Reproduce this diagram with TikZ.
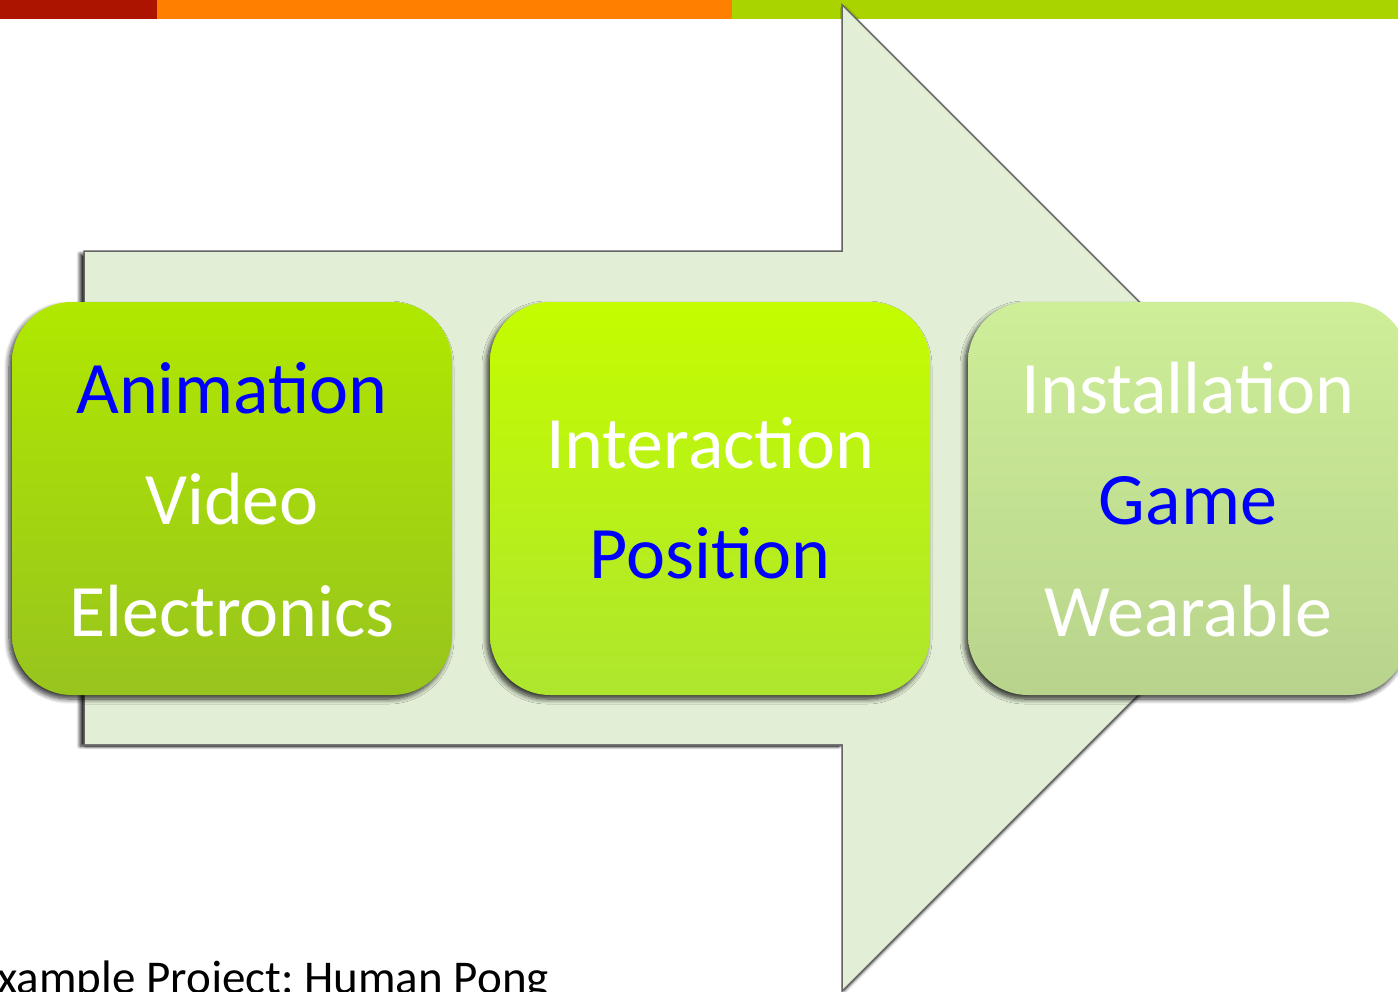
\documentclass[tikz,border=0pt]{standalone}
\usepackage{fontspec}
\setmainfont{Carlito}
\usetikzlibrary{shadows.blur}
\definecolor{barred}{RGB}{172,20,0}
\definecolor{barorange}{RGB}{255,127,0}
\definecolor{bargreen}{RGB}{170,212,0}
\definecolor{arrowfill}{RGB}{226,238,214}
\definecolor{boxAtop}{RGB}{176,232,0}
\definecolor{boxAbot}{RGB}{152,196,30}
\definecolor{boxBtop}{RGB}{196,252,0}
\definecolor{boxBbot}{RGB}{174,230,46}
\definecolor{boxCtop}{RGB}{206,238,152}
\definecolor{boxCbot}{RGB}{184,212,140}
\definecolor{txtblue}{RGB}{0,0,255}
\frenchspacing
\begin{document}
\begin{tikzpicture}[x=1pt,y=-1pt,
  stage/.style={rectangle, rounded corners=60pt, minimum width=440pt,
    minimum height=393pt, inner sep=0pt,
    blur shadow={shadow xshift=-3pt, shadow yshift=-4pt,
      shadow blur radius=5pt, shadow blur steps=8, shadow opacity=80}},
  lbl/.style={inner sep=0pt, anchor=base, font=\fontsize{74}{89}\selectfont},
  bluetxt/.style={lbl, text=txtblue},
  whitetxt/.style={lbl, text=white}]
\useasboundingbox (0,0) rectangle (1398,991);
\clip (0,0) rectangle (1398,991);
% top bar
\fill[barred] (0,0) rectangle (157,19);
\fill[barorange] (157,0) rectangle (732,19);
\fill[bargreen] (732,0) rectangle (1398,19);
% big arrow: shaft shadow (stronger on the left), then the whole arrow
\path[fill=arrowfill, blur shadow={shadow xshift=-5pt, shadow yshift=-2pt,
    shadow blur radius=3.5pt, shadow blur steps=7, shadow opacity=90}]
  (85,252) rectangle (843,744);
\path[blur shadow={shadow xshift=1pt, shadow yshift=-1.5pt,
    shadow blur radius=3.5pt, shadow blur steps=7, shadow opacity=80},
    preaction={draw=black!60, line width=3.5pt, line join=miter},
    fill=arrowfill]
  (85,252) -- (843,252) -- (843,7) -- (1334,498) -- (843,989)
  -- (843,744) -- (85,744) -- cycle;
% stages
\node[stage, top color=boxAtop, bottom color=boxAbot] (b1) at (232,498.5) {};
\node[stage, top color=boxBtop, bottom color=boxBbot] (b2) at (710,498.5) {};
\node[stage, top color=boxCtop, bottom color=boxCbot] (b3) at (1188,498.5) {};
% texts
\node[bluetxt]  (t1a) at (232,413) {Animation};
\node[whitetxt] (t1b) at (232,524) {Video};
\node[whitetxt] (t1c) at (232,636) {Electronics};
\node[whitetxt] (t2a) at (710,468) {Interaction};
\node[bluetxt]  (t2b) at (710,578) {Position};
\node[whitetxt] (t3a) at (1188,413) {Installation};
\node[bluetxt]  (t3b) at (1188,524) {Game};
\node[whitetxt] (t3c) at (1188,636) {Wearable};
% caption
\node[inner sep=0pt, anchor=base east, font=\fontsize{47}{56}\selectfont]
  (cap) at (549,993) {Example Project: Human Pong};
\end{tikzpicture}
\end{document}
